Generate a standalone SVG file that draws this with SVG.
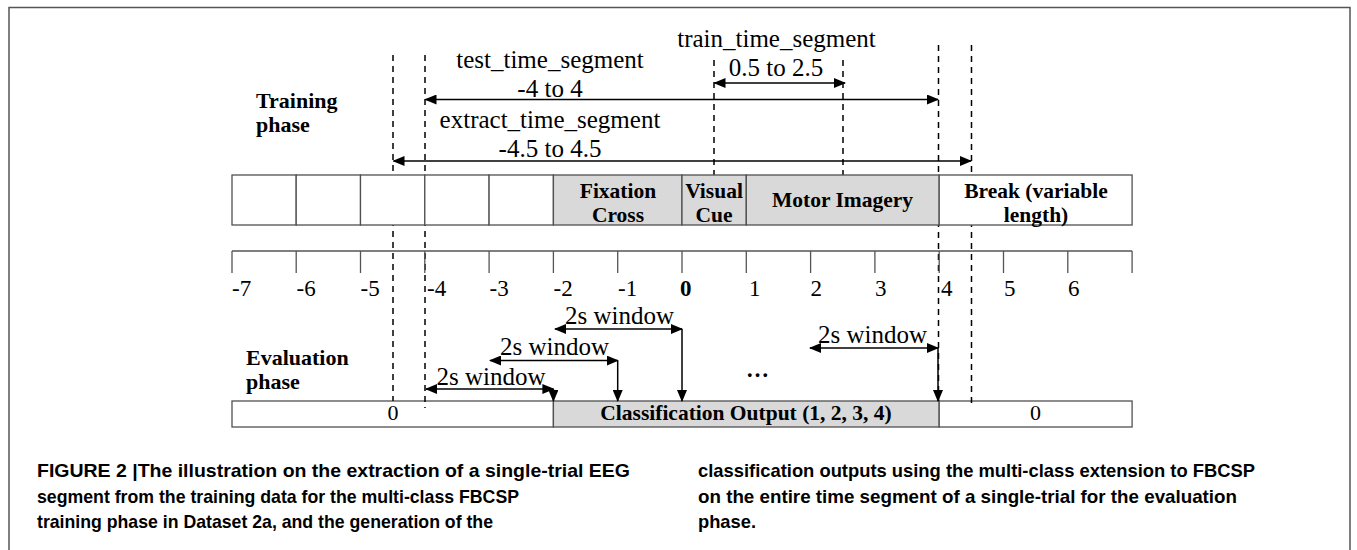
<svg xmlns="http://www.w3.org/2000/svg" width="1357" height="550" viewBox="0 0 1357 550">
<defs>
<style>
.serif{font-family:"Liberation Serif","Times New Roman",serif;fill:#000}
.lbl{font-size:25px;text-anchor:middle}
.ph{font-size:22px;font-weight:bold}
.cell{stroke:#505050;stroke-width:1.3}
.w{fill:#fff}
.g{fill:#d9d9d9}
.ct{font-size:21.5px;font-weight:bold;text-anchor:middle}
.ax{font-size:23px}
.dash{stroke:#000;stroke-width:1.5;stroke-dasharray:6,5;fill:none}
.arr{stroke:#000;stroke-width:1.5;fill:none}
.cap{font-family:"Liberation Sans",Arial,sans-serif;font-weight:bold;font-size:18.5px;fill:#000}
</style>
<marker id="ah" markerUnits="userSpaceOnUse" markerWidth="12" markerHeight="10" refX="11" refY="5" orient="auto-start-reverse" viewBox="0 0 12 10">
<path d="M0,0 L12,5 L0,10 z" fill="#000"/>
</marker>
</defs>
<rect x="0" y="0" width="1357" height="550" fill="#fff"/>
<path d="M9,560 L9,7.5 L1350,7.5 L1350,560" fill="none" stroke="#555" stroke-width="1.5"/>

<!-- evaluation bar -->
<g id="eval-bar">
<g id="eval-zero-left"><rect class="cell w" x="232" y="401" width="321.4" height="26"/><text class="serif" x="393" y="420" font-size="22" text-anchor="middle">0</text></g>
<g id="eval-output"><rect class="cell g" x="553.4" y="401" width="385.8" height="26"/><text class="serif ct" x="746" y="420">Classification Output (1, 2, 3, 4)</text></g>
<g id="eval-zero-right"><rect class="cell w" x="939.2" y="401" width="192.9" height="26"/><text class="serif" x="1035.5" y="420" font-size="22" text-anchor="middle">0</text></g>
</g>

<!-- dashed guide lines -->
<g id="guides">
<line class="dash" x1="393" y1="55" x2="393" y2="401"/>
<line class="dash" x1="425" y1="55" x2="425" y2="408"/>
<line class="dash" x1="714" y1="60" x2="714" y2="175"/>
<line class="dash" x1="843" y1="60" x2="843" y2="175"/>
<line class="dash" x1="938.5" y1="45" x2="938.5" y2="401"/>
<line class="dash" x1="971.5" y1="45" x2="971.5" y2="408"/>
</g>

<!-- trial timeline bar -->
<g id="trial-bar">
<g id="cell-m7"><rect class="cell w" x="232" y="175" width="64.2" height="50"/></g>
<g id="cell-m6"><rect class="cell w" x="296.2" y="175" width="64.3" height="50"/></g>
<g id="cell-m5"><rect class="cell w" x="360.5" y="175" width="64.3" height="50"/></g>
<g id="cell-m4"><rect class="cell w" x="424.8" y="175" width="64.3" height="50"/></g>
<g id="cell-m3"><rect class="cell w" x="489.1" y="175" width="64.3" height="50"/></g>
<g id="fixation-cross"><rect class="cell g" x="553.4" y="175" width="128.6" height="50"/><text class="serif ct" x="618" y="198">Fixation</text><text class="serif ct" x="618" y="222">Cross</text></g>
<g id="visual-cue"><rect class="cell g" x="682" y="175" width="64.3" height="50"/><text class="serif ct" x="714" y="198">Visual</text><text class="serif ct" x="714" y="222">Cue</text></g>
<g id="motor-imagery"><rect class="cell g" x="746.3" y="175" width="192.9" height="50"/><text class="serif ct" x="842.5" y="207">Motor Imagery</text></g>
<g id="break"><rect class="cell w" x="939.2" y="175" width="192.9" height="50"/><text class="serif ct" x="1036" y="198">Break (variable</text><text class="serif ct" x="1036" y="222">length)</text></g>
</g>

<!-- time axis -->
<g id="axis">
<path d="M232,251 H1132.1 M232,251 V273 M296.2,251 V273 M360.5,251 V273 M424.8,251 V273 M489.1,251 V273 M553.4,251 V273 M617.7,251 V273 M682,251 V273 M746.3,251 V273 M810.6,251 V273 M874.9,251 V273 M939.2,251 V273 M1003.5,251 V273 M1067.8,251 V273 M1132.1,251 V273" stroke="#555" stroke-width="1.3" fill="none"/>
<g class="serif ax">
<text x="232" y="296">-7</text>
<text x="296.5" y="296">-6</text>
<text x="360.5" y="296">-5</text>
<text x="427" y="296">-4</text>
<text x="489.5" y="296">-3</text>
<text x="553.5" y="296">-2</text>
<text x="618" y="296">-1</text>
<text x="680" y="296" font-weight="bold">0</text>
<text x="749" y="296">1</text>
<text x="810.5" y="296">2</text>
<text x="875" y="296">3</text>
<text x="941" y="296">4</text>
<text x="1004" y="296">5</text>
<text x="1068" y="296">6</text>
</g>
</g>

<!-- phase labels -->
<g id="training-phase"><text class="serif ph" x="256" y="108">Training</text><text class="serif ph" x="256" y="132">phase</text></g>
<g id="evaluation-phase"><text class="serif ph" x="246" y="365">Evaluation</text><text class="serif ph" x="246" y="389">phase</text></g>

<!-- segment labels -->
<g id="train-segment"><text class="serif lbl" x="776.5" y="47">train_time_segment</text><text class="serif lbl" x="776" y="76">0.5 to 2.5</text></g>
<g id="test-segment"><text class="serif lbl" x="550" y="68">test_time_segment</text><text class="serif lbl" x="550" y="97">-4 to 4</text></g>
<g id="extract-segment"><text class="serif lbl" x="550" y="128">extract_time_segment</text><text class="serif lbl" x="550" y="157">-4.5 to 4.5</text></g>

<!-- window labels -->
<g id="window-1"><text class="serif lbl" x="619.5" y="324">2s window</text></g>
<g id="window-2"><text class="serif lbl" x="554.5" y="355">2s window</text></g>
<g id="window-3"><text class="serif lbl" x="491" y="385">2s window</text></g>
<g id="window-4"><text class="serif lbl" x="872.5" y="343">2s window</text></g>
<g id="ellipsis"><text class="serif" x="746" y="377" font-size="23" font-weight="bold">…</text></g>

<!-- connectors -->
<g id="connectors">
<line class="arr" x1="714.5" y1="83" x2="845" y2="83" marker-start="url(#ah)" marker-end="url(#ah)"/>
<line class="arr" x1="425.5" y1="99.5" x2="938" y2="99.5" marker-start="url(#ah)" marker-end="url(#ah)"/>
<line class="arr" x1="393.5" y1="161" x2="971" y2="161" marker-start="url(#ah)" marker-end="url(#ah)"/>
<line class="arr" x1="555" y1="329" x2="682" y2="329" marker-start="url(#ah)" marker-end="url(#ah)"/>
<line class="arr" x1="682" y1="329" x2="682" y2="401" marker-end="url(#ah)"/>
<line class="arr" x1="490" y1="360.5" x2="617.7" y2="360.5" marker-start="url(#ah)" marker-end="url(#ah)"/>
<line class="arr" x1="617.7" y1="360.5" x2="617.7" y2="401" marker-end="url(#ah)"/>
<line class="arr" x1="426" y1="389" x2="553.4" y2="389" marker-start="url(#ah)" marker-end="url(#ah)"/>
<line class="arr" x1="553.4" y1="389" x2="553.4" y2="401" marker-end="url(#ah)"/>
<line class="arr" x1="810" y1="348" x2="938" y2="348" marker-start="url(#ah)" marker-end="url(#ah)"/>
<line class="arr" x1="938" y1="348" x2="938" y2="401" marker-end="url(#ah)"/>
</g>

<!-- caption -->
<g id="caption">
<text class="cap" x="37" y="477" textLength="593" lengthAdjust="spacingAndGlyphs">FIGURE 2 |The illustration on the extraction of a single-trial EEG</text>
<text class="cap" x="37" y="503" textLength="482" lengthAdjust="spacingAndGlyphs">segment from the training data for the multi-class FBCSP</text>
<text class="cap" x="37" y="528" textLength="456" lengthAdjust="spacingAndGlyphs">training phase in Dataset 2a, and the generation of the</text>
<text class="cap" x="698" y="477" textLength="557" lengthAdjust="spacingAndGlyphs">classification outputs using the multi-class extension to FBCSP</text>
<text class="cap" x="698" y="503" textLength="539" lengthAdjust="spacingAndGlyphs">on the entire time segment of a single-trial for the evaluation</text>
<text class="cap" x="698" y="528" textLength="58" lengthAdjust="spacingAndGlyphs">phase.</text>
</g>
</svg>
